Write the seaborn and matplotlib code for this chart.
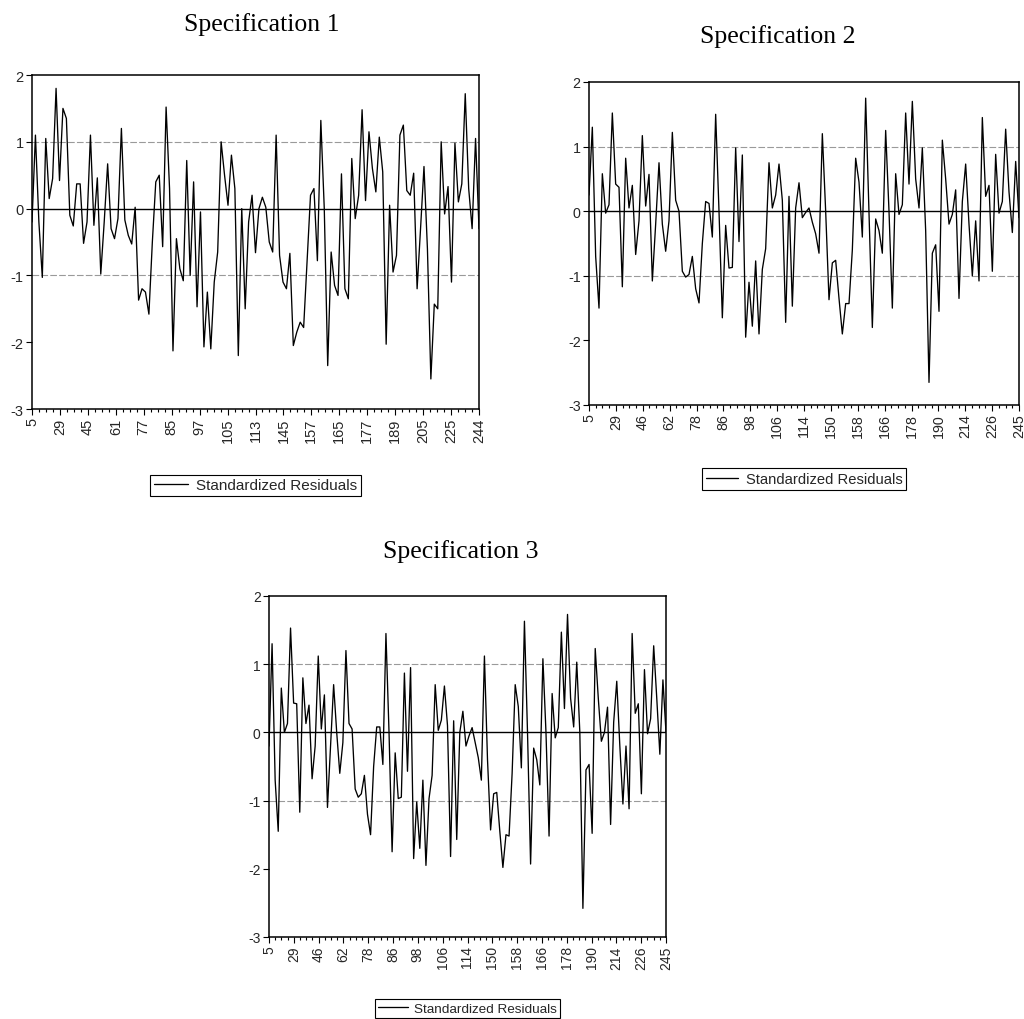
import numpy as np
import pandas as pd
import seaborn as sns
import matplotlib.pyplot as plt

# ---------------- data ----------------
spec1_labels = ["5", "29", "45", "61", "77", "85", "97", "105", "113", "145",
                "157", "165", "177", "189", "205", "225", "244"]
spec23_labels = ["5", "29", "46", "62", "78", "86", "98", "106", "114", "150",
                 "158", "166", "178", "190", "214", "226", "245"]

spec1_resid = [-0.2, 1.1, -0.2, -1.03, 1.05, 0.15, 0.45, 1.8, 0.42, 1.5,
               1.35, -0.1, -0.26, 0.37, 0.37, -0.52, -0.2, 1.1, -0.25, 0.46,
               -0.98, -0.2, 0.67, -0.3, -0.45, -0.15, 1.2, -0.17, -0.4, -0.53,
               0.02, -1.37, -1.2, -1.25, -1.58, -0.5, 0.4, 0.5, -0.57, 1.52,
               0.3, -2.13, -0.45, -0.9, -1.08, 0.72, -1.0, 0.4, -1.47, -0.05,
               -2.07, -1.25, -2.1, -1.1, -0.65, 1.0, 0.5, 0.05, 0.8, 0.3,
               -2.2, 0.0, -1.5, -0.2, 0.2, -0.66, 0.0, 0.17, 0.02, -0.5,
               -0.65, 1.1, -0.7, -1.1, -1.2, -0.67, -2.05, -1.85, -1.7, -1.78,
               -0.8, 0.2, 0.3, -0.78, 1.32, 0.0, -2.35, -0.65, -1.15, -1.3,
               0.52, -1.2, -1.35, 0.75, -0.15, 0.2, 1.48, 0.12, 1.15, 0.6,
               0.25, 1.07, 0.55, -2.03, 0.05, -0.95, -0.7, 1.1, 1.25, 0.27,
               0.2, 0.53, -1.2, -0.3, 0.63, -0.6, -2.55, -1.43, -1.5, 1.0,
               -0.08, 0.33, -1.1, 0.98, 0.1, 0.37, 1.72, 0.3, -0.3, 1.05,
               -0.3]

spec2_resid = [0.25, 1.3, -0.7, -1.5, 0.58, -0.03, 0.1, 1.52, 0.42, 0.37,
               -1.17, 0.82, 0.05, 0.4, -0.67, -0.15, 1.17, 0.08, 0.57, -1.08,
               -0.2, 0.75, -0.2, -0.62, -0.15, 1.22, 0.17, 0.0, -0.93, -1.02,
               -0.98, -0.7, -1.2, -1.42, -0.5, 0.15, 0.12, -0.4, 1.5, 0.0,
               -1.65, -0.22, -0.88, -0.87, 0.98, -0.47, 0.87, -1.95, -1.1, -1.78,
               -0.77, -1.9, -0.9, -0.58, 0.75, 0.05, 0.25, 0.73, 0.17, -1.72,
               0.23, -1.47, 0.05, 0.44, -0.1, -0.02, 0.05, -0.17, -0.35, -0.65,
               1.2, 0.0, -1.37, -0.8, -0.76, -1.35, -1.9, -1.43, -1.43, -0.6,
               0.82, 0.45, -0.4, 1.75, 0.0, -1.8, -0.12, -0.3, -0.65, 1.25,
               0.0, -1.5, 0.58, -0.05, 0.1, 1.52, 0.42, 1.7, 0.5, 0.05,
               0.98, -0.3, -2.65, -0.65, -0.52, -1.55, 1.1, 0.5, -0.2, -0.05,
               0.33, -1.35, 0.15, 0.73, -0.2, -1.0, -0.15, -1.08, 1.45, 0.23,
               0.4, -0.93, 0.88, -0.03, 0.15, 1.27, 0.3, -0.33, 0.77, -0.1]

spec3_resid = [-0.2, 1.3, -0.7, -1.45, 0.65, 0.0, 0.13, 1.53, 0.43, 0.42,
               -1.17, 0.8, 0.13, 0.4, -0.68, -0.2, 1.12, 0.05, 0.55, -1.1,
               -0.2, 0.7, 0.0, -0.6, -0.15, 1.2, 0.13, 0.05, -0.83, -0.95,
               -0.9, -0.63, -1.2, -1.5, -0.5, 0.08, 0.08, -0.47, 1.45, 0.0,
               -1.75, -0.3, -0.97, -0.95, 0.87, -0.57, 0.95, -1.85, -1.02, -1.7,
               -0.7, -1.95, -0.97, -0.63, 0.7, 0.03, 0.18, 0.68, 0.1, -1.82,
               0.17, -1.57, 0.0, 0.31, -0.2, -0.05, 0.07, -0.15, -0.37, -0.7,
               1.12, -0.4, -1.43, -0.9, -0.88, -1.45, -1.98, -1.5, -1.52, -0.6,
               0.7, 0.38, -0.52, 1.63, 0.0, -1.93, -0.23, -0.4, -0.77, 1.08,
               0.0, -1.52, 0.57, -0.08, 0.07, 1.47, 0.35, 1.73, 0.5, 0.08,
               1.03, 0.0, -2.58, -0.55, -0.47, -1.48, 1.23, 0.5, -0.13, 0.0,
               0.37, -1.35, 0.15, 0.75, -0.2, -1.05, -0.2, -1.12, 1.45, 0.28,
               0.42, -0.9, 0.92, -0.02, 0.2, 1.27, 0.5, -0.32, 0.77, 0.0]

y_ticks = [-3, -2, -1, 0, 1, 2]
series_name = "Standardized Residuals"

# ---------------- style ----------------
sns.set_theme(style="white")
plt.rcParams['font.family'] = ['Liberation Sans', 'DejaVu Sans']
plt.rcParams['axes.unicode_minus'] = False

W, H = 1024, 1020
fig = plt.figure(figsize=(W / 100, H / 100), dpi=100)
fig.patch.set_facecolor('white')


def px_axes(l, t, r, b):
    return fig.add_axes([l / W, 1 - b / H, (r - l) / W, (b - t) / H])


def panel(box, values, labels, title, title_xy, legend_top, legend_size,
          tick_size):
    ax = px_axes(*box)
    n = len(values)
    df = pd.DataFrame({"obs": np.arange(n), "resid": values})
    ax.axhline(1, color='#9a9a9a', lw=0.8, ls=(0, (6, 2)), zorder=1)
    ax.axhline(-1, color='#9a9a9a', lw=0.8, ls=(0, (6, 2)), zorder=1)
    ax.axhline(0, color='black', lw=1.0, zorder=2)
    sns.lineplot(data=df, x="obs", y="resid", ax=ax, color='black', lw=0.95,
                 label=series_name, legend=False, zorder=3)
    ax.set_xlim(0, n - 1)
    ax.set_ylim(-3, 2)
    ax.set_yticks(y_ticks)
    ax.set_yticklabels([str(v) for v in y_ticks])
    ax.set_xticks(np.linspace(0, n - 1, len(labels)))
    ax.set_xticklabels(labels, rotation=90)
    ax.set_xticks(np.linspace(0, n - 1, 4 * (len(labels) - 1) + 1), minor=True)
    ax.set_xlabel("")
    ax.set_ylabel("")
    for s in ax.spines.values():
        s.set_color('black')
        s.set_linewidth(1.1)
    ax.tick_params(axis='both', which='major', direction='out', length=4,
                   width=0.8, color='black', labelsize=tick_size, pad=2,
                   bottom=True, left=True, top=False, right=False)
    ax.tick_params(axis='x', which='minor', direction='out', length=2.5,
                   width=0.8, color='black', bottom=True)
    ax.grid(False)
    # title
    fig.text(title_xy[0] / W, 1 - title_xy[1] / H, title, ha='center',
             va='center', family='Liberation Serif', size=18.5, color='black')
    # legend
    handles, labs = ax.get_legend_handles_labels()
    cx = (box[0] + box[2]) / 2
    leg = fig.legend(handles, labs, loc='upper center',
                     bbox_to_anchor=(cx / W, 1 - legend_top / H),
                     frameon=True, fancybox=False, edgecolor='black',
                     handlelength=2.2, fontsize=legend_size, borderpad=0.25,
                     handletextpad=0.5, framealpha=1)
    leg.get_frame().set_linewidth(0.8)
    return ax


panel((32, 76, 479, 410), spec1_resid, spec1_labels, "Specification 1",
      (262, 25), 468, 11, 10.5)
panel((589, 83, 1019, 406), spec2_resid, spec23_labels, "Specification 2",
      (778, 37), 462, 10.6, 10.3)
panel((269, 597, 666, 938), spec3_resid, spec23_labels, "Specification 3",
      (461, 552), 993, 9.7, 10.0)

fig.savefig("out.png", dpi=100, facecolor='white')
